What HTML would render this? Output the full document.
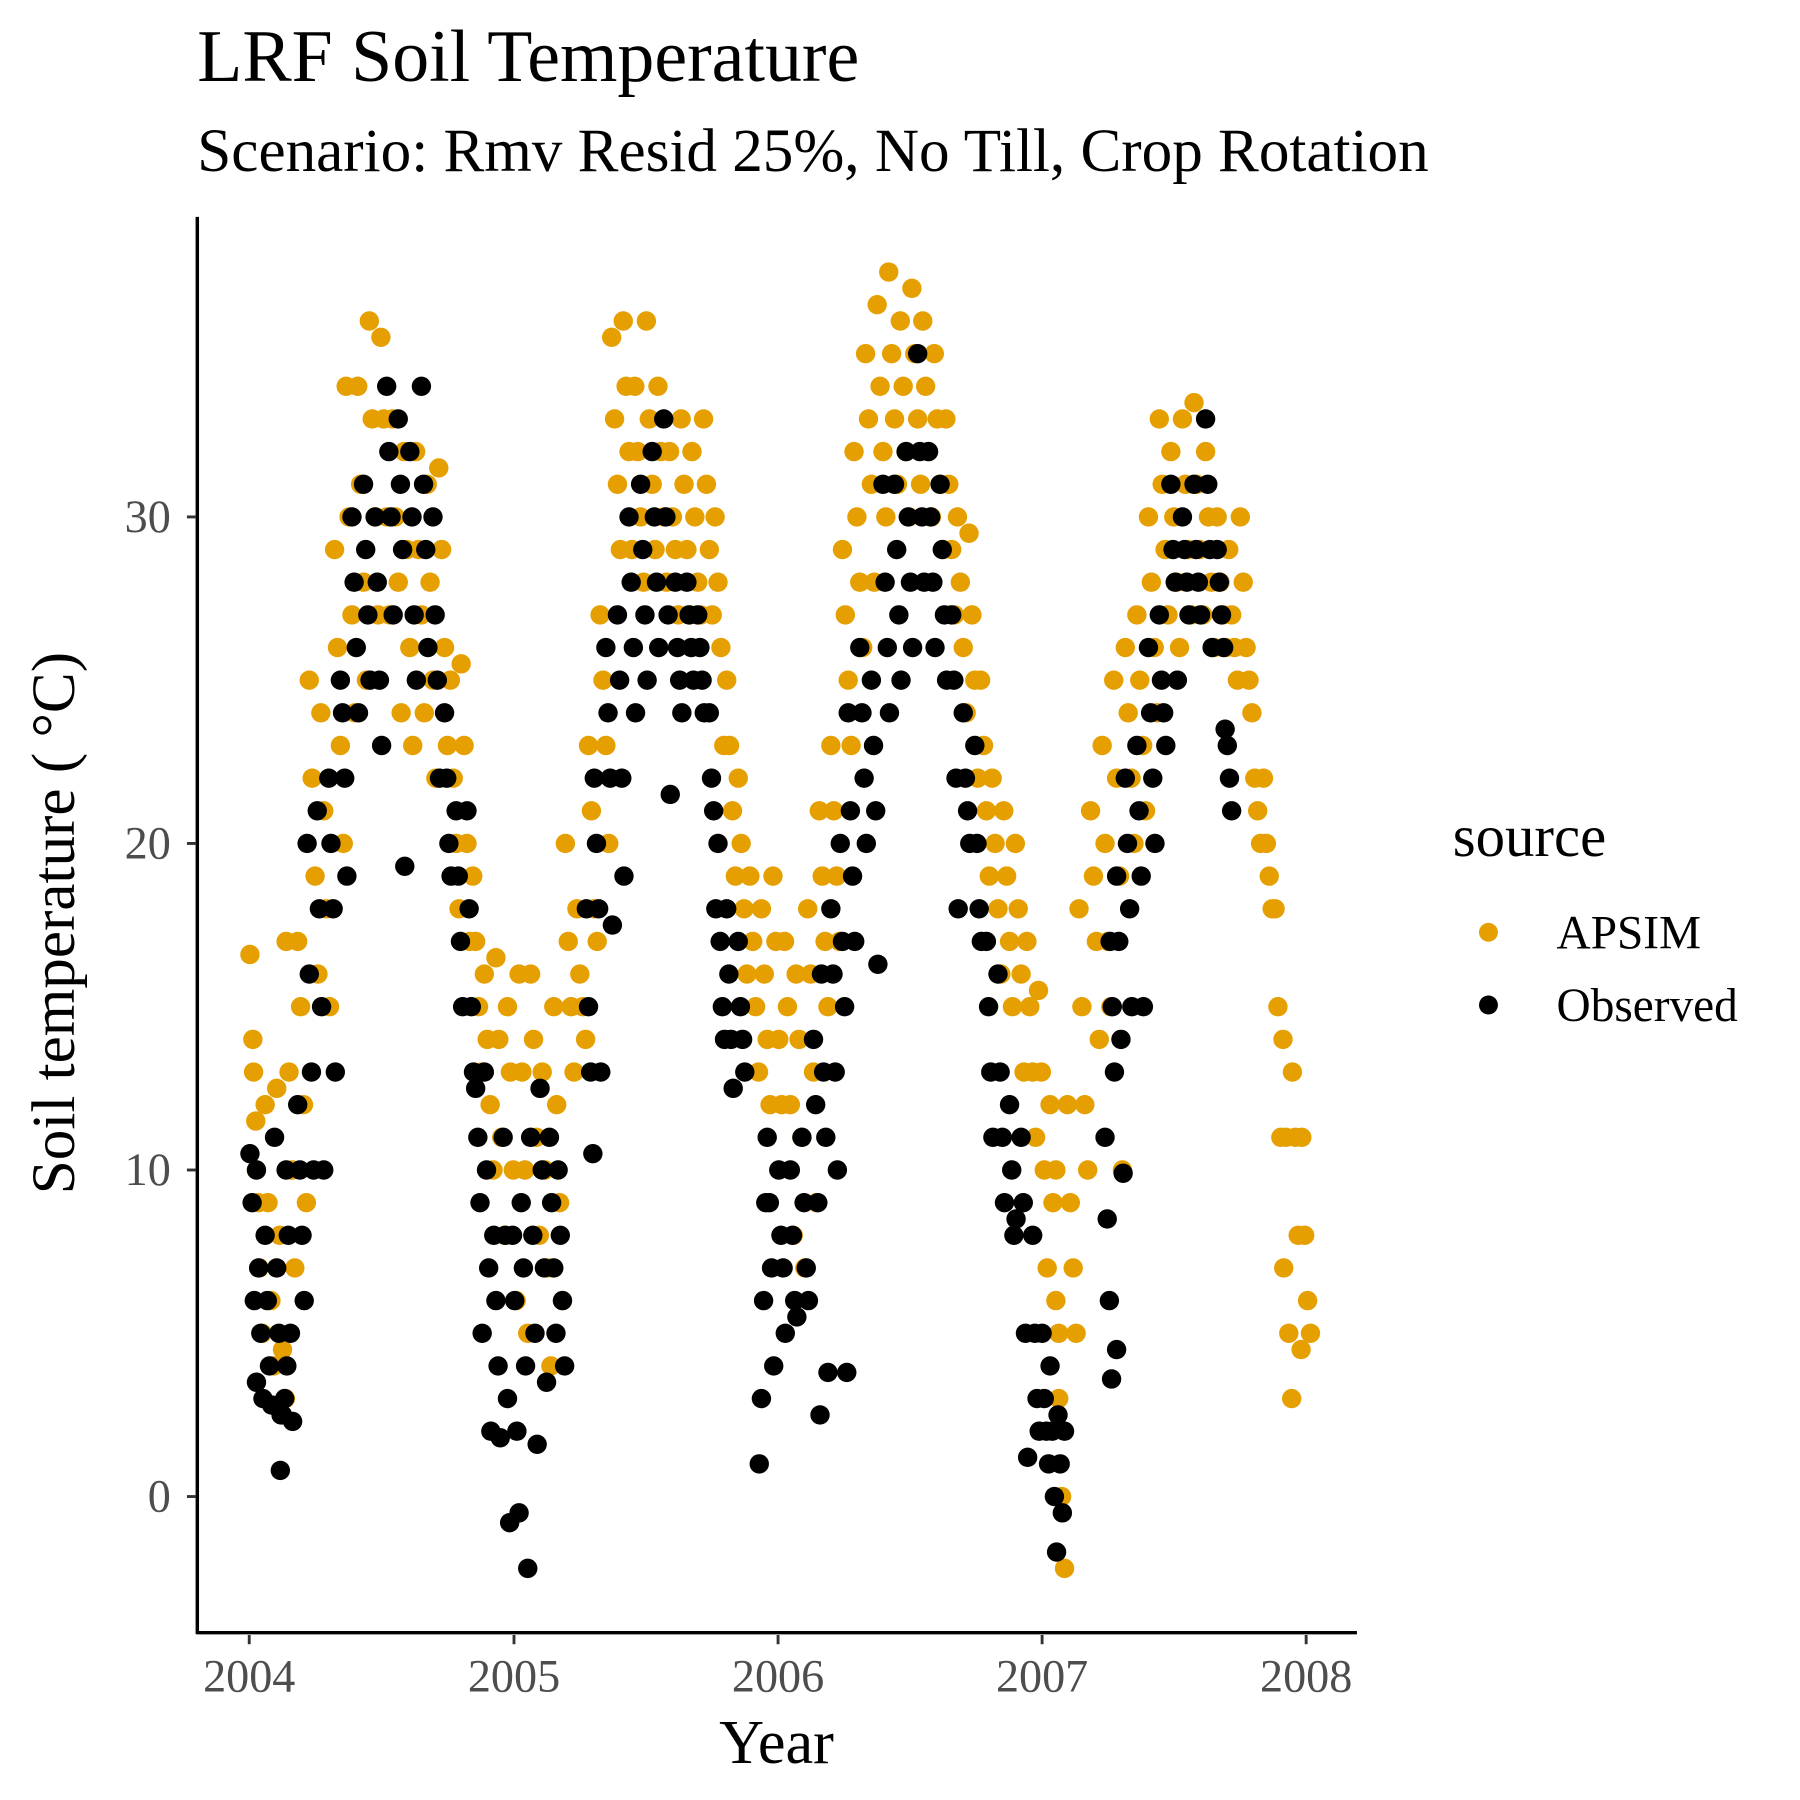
<!DOCTYPE html>
<html><head><meta charset="utf-8"><style>
html,body{margin:0;padding:0;background:#fff;}
svg{display:block;font-family:"Liberation Serif",serif;}
</style></head><body>
<svg id="chart" width="1800" height="1800" viewBox="0 0 1560 1560" xmlns="http://www.w3.org/2000/svg">
<rect width="1560" height="1560" fill="#fff"/>
<text x="171" y="70" font-size="64" fill="#000">LRF Soil Temperature</text>
<text x="171" y="148" font-size="53" fill="#000">Scenario: Rmv Resid 25%, No Till, Crop Rotation</text>
<g id="plot"></g>
<g id="axes"></g>
<text transform="translate(64,800) rotate(-90)" text-anchor="middle" font-size="53" fill="#000">Soil temperature ( °C)</text>
<text x="673" y="1528" text-anchor="middle" font-size="54" fill="#000">Year</text>
<g>
<text x="1259" y="742" font-size="51" fill="#000">source</text>
<g><circle cx="1290" cy="808" r="8.2" fill="#E69F00"/><text x="1349" y="822" font-size="41" fill="#000">APSIM</text></g>
<g><circle cx="1290" cy="871" r="8.2" fill="#000"/><text x="1349" y="885" font-size="41" fill="#000">Observed</text></g>
</g>
</svg>
<script>
// Days since 2004-01-01 for each sampling window; each window holds 4 readings.
const apsimDay = [1,6,22,38,51,67,83,99,118,134,150,166,182,198,214,230,246,262,278,293,309,325,341,357,373,389,405,421,437,453,469,485,501,517,533,549,565,581,597,612,628,644,660,676,692,708,724,740,756,772,788,804,820,836,852,868,884,900,916,931,947,963,979,995,1011,1027,1043,1059,1075,1091,1107,1115,1131,1147,1163,1179,1195,1211,1227,1243,1258,1274,1290,1306,1322,1338,1354,1370,1386,1402,1418,1429,1442,1455];
const apsimTemp = [[16.6,14,11.5,9],[13,10,7,5],[12,9,6,4],[12.5,8,4.5,3],[17,13,10,7],[17,15,12,9],[25,22,19,16],[24,21,18,15],[29,26,23,20],[34,30,27,24],[34,31,28,25],[36,33,30,27],[35.5,33,30,27],[33,30,28,24],[32,29,26,23],[32,29,27,24],[31,28,25,22],[31.5,29,26,23],[25,22,20,18],[25.5,23,20,17],[19,17,15,13],[16,14,12,10],[16.5,14,11,8],[15,13,10,6],[16,13,10,5],[16,14,11,8],[13,10,7,4],[15,12,9,6],[20,17,15,13],[18,16,15,14],[23,21,18,17],[27,25,23,20],[35.5,33,31,29],[36,34,32,29],[34,32,30,28],[36,33,31,29],[34,32,30,28],[32,30,29,27],[33,31,29,27],[32,30,28,27],[33,31,29,27],[30,28,26,23],[25,23,21,19],[22,20,18,16],[19,17,15,13],[18,16,14,12],[19,17,14,12],[17,15,12,8],[16,14,11,7],[18,16,13,9],[21,19,17,15],[23,21,19,17],[29,27,25,23],[32,30,28,26],[35,33,31,28],[36.5,34,32,30],[37.5,35,33,31],[36,34,32,30],[37,35,33,31],[36,34,32,30],[35,33,31,29],[33,31,29,27],[30,28,26,24],[29.5,27,25,22],[25,23,21,19],[22,20,18,16],[21,19,17,15],[20,18,16,13],[17,15,13,11],[15.5,13,10,7],[12,9,6,3],[10,5,0,-2.2],[12,9,7,5],[18,15,12,10],[21,19,17,14],[23,20,17,15],[25,22,19,10],[26,24,22,20],[27,25,23,21],[30,28,26,24],[33,31,29,27],[32,30,28,26],[33,31,29,27],[33.5,31,29,27],[32,30,28,26],[30,28,27,26],[29,27,26,25],[30,28,26,25],[24,22,21,20],[22,20,19,18],[18,15,11,7],[14,11,5,3],[13,11,8,4.5],[11,8,6,5]];
const obsDay = [1,10,22,35,43,51,67,80,94,110,126,142,158,174,190,206,222,238,254,270,286,301,313,325,338,351,364,376,389,402,415,427,466,477,493,509,525,541,557,573,589,605,620,636,648,660,676,705,716,732,748,764,780,791,804,817,828,844,860,876,892,908,924,939,955,971,987,1003,1019,1035,1051,1067,1083,1096,1107,1118,1183,1190,1199,1211,1227,1243,1258,1274,1290,1306,1322,1338,1349];
const obsTemp = [[10.5,9,6,3.5],[10,7,5,3],[8,6,4,2.8],[11,7,5,2.5],[0.8,2.5,3,4],[10,8,5,2.3],[12,10,8,6],[20,16,13,10],[21,18,15,10],[22,20,18,13],[25,24,22,19],[30,28,26,24],[31,29,27,25],[30,28,25,23],[34,32,30,27],[33,31,29,19.3],[32,30,27,25],[34,31,29,26],[30,27,25,22],[24,22,20,19],[21,19,17,15],[21,18,15,13],[12.5,11,9,5],[13,10,7,2],[8,6,4,1.8],[11,8,3,-0.8],[8,6,2,-0.5],[9,7,4,-2.2],[11,8,5,1.6],[12.5,10,7,3.5],[11,9,7,5],[10,8,6,4],[18,15,13,10.5],[22,20,18,13],[26,24,22,17.5],[27,25,22,19],[30,28,26,24],[31,29,27,25],[32,30,28,26],[33,30,27,21.5],[28,26,25,24],[28,27,26,25],[27,26,25,24],[24,22,21,18],[20,17,15,14],[18,16,14,12.5],[17,15,14,13],[1,3,6,9],[11,9,7,4],[10,8,7,5],[10,8,6,5.5],[11,9,7,6],[14,12,9,2.5],[16,13,11,3.8],[18,16,13,10],[20,17,15,3.8],[24,21,19,17],[26,24,22,20],[25,23,21,16.3],[31,28,26,24],[31,29,27,25],[32,30,28,26],[35,32,30,28],[32,30,28,26],[31,29,27,25],[27,25,22,18],[24,22,21,20],[23,20,18,17],[17,15,13,11],[16,13,11,9],[12,10,8,8.5],[11,9,5,1.2],[8,5,3,2],[5,3,2,1],[4,2,0,-1.7],[2.5,1,-0.5,2],[11,8.5,6,3.6],[17,15,13,4.5],[19,17,14,9.9],[22,20,18,15],[23,21,19,15],[26,24,22,20],[27,25,24,23],[31,29,28,25],[30,29,28,27],[31,29,28,27],[33,31,29,26],[29,28,27,26],[23.5,23,22,21]];
const yTicks = [0,10,20,30];
const xTickYears = [2004,2005,2006,2007,2008];

const NS = "http://www.w3.org/2000/svg";
const y0px = 1297, pxPerDeg = 28.3;
const x0px = 216, pxPerDay = 229/365.25;
function yScale(v){ return y0px - v*pxPerDeg; }
function xScale(d){ return x0px + d*pxPerDay; }
function yearToDay(y){ return (Date.UTC(y,0,1)-Date.UTC(2004,0,1))/86400000; }

const plot = document.getElementById('plot');
function drawSeries(days, temps, color, spacing, name){
  days.forEach((d,i)=>{
    temps[i].forEach((v,k)=>{
      const c = document.createElementNS(NS,'circle');
      c.setAttribute('cx', xScale(d + k*spacing));
      c.setAttribute('cy', yScale(v));
      c.setAttribute('r', 8.4);
      c.setAttribute('fill', color);
      
      
      plot.appendChild(c);
    });
  });
}
drawSeries(apsimDay, apsimTemp, '#E69F00', 4, 'apsim-point');
drawSeries(obsDay, obsTemp, '#000000', 3, 'observed-point');

const axes = document.getElementById('axes');
function mk(tag, attrs){ const e=document.createElementNS(NS,tag); for(const k in attrs) e.setAttribute(k,attrs[k]); axes.appendChild(e); return e; }
const yl = mk('line',{x1:171,y1:188,x2:171,y2:1416,stroke:'#000','stroke-width':3});


const xl = mk('line',{x1:170,y1:1415,x2:1176,y2:1415,stroke:'#000','stroke-width':3});


yTicks.forEach(t=>{
  const y=yScale(t);
  const tk = mk('line',{x1:162,y1:y,x2:170,y2:y,stroke:'#333','stroke-width':2.5});
  
  
  const lb = mk('text',{x:148,y:y+13,'text-anchor':'end','font-size':40,fill:'#4d4d4d'});
  lb.textContent = t;
  
  
});
xTickYears.forEach(yr=>{
  const x=xScale(yearToDay(yr));
  const tk = mk('line',{x1:x,y1:1417,x2:x,y2:1425,stroke:'#333','stroke-width':2.5});
  
  
  const lb = mk('text',{x:x,y:1466,'text-anchor':'middle','font-size':40,fill:'#4d4d4d'});
  lb.textContent = yr;
  
  
});
</script>
</body></html>
